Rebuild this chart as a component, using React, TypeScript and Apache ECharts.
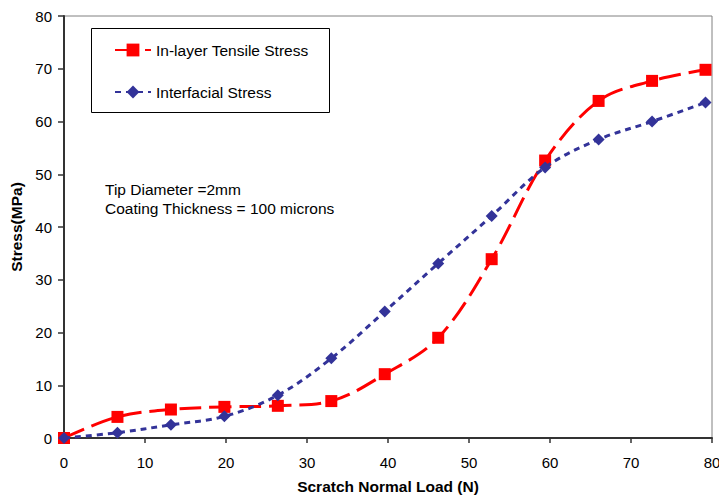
import React, { useEffect, useRef } from "react";
import * as echarts from "echarts";

const loadN = [0, 6.6, 13.2, 19.8, 26.4, 33, 39.6, 46.2, 52.8, 59.4, 66, 72.6, 79.2];
const inLayerStress = [0, 4.0, 5.4, 5.9, 6.1, 7.0, 12.1, 19.0, 33.9, 52.6, 63.9, 67.7, 69.8];
const interfacialStress = [0, 1.0, 2.5, 4.1, 8.1, 15.1, 24.0, 33.1, 42.1, 51.3, 56.6, 60.0, 63.6];
const seriesNames = ["In-layer Tensile Stress", "Interfacial Stress"];
const noteLines = ["Tip Diameter =2mm", "Coating Thickness = 100 microns"];

const FONT = "Liberation Sans, Arial, sans-serif";

export default function App() {
  const ref = useRef<HTMLDivElement>(null);
  useEffect(() => {
    if (!ref.current) return;
    const chart = echarts.init(ref.current, undefined, { renderer: "svg" });
    const pair = (xs: number[], ys: number[]) => xs.map((x, i) => [x, ys[i]]);
    chart.setOption({
      animation: false,
      backgroundColor: "#fff",
      textStyle: { fontFamily: FONT },
      grid: {
        left: 64,
        right: 7,
        top: 16,
        bottom: 58,
        outerBoundsMode: "none",
        containLabel: false,
        show: true,
        borderColor: "#808080",
        borderWidth: 1,
      },
      legend: {
        orient: "vertical",
        left: 114,
        top: 42,
        padding: 0,
        itemGap: 26,
        itemWidth: 36,
        itemHeight: 16,
        textStyle: { fontSize: 15.5, color: "#000", fontFamily: FONT },
        data: seriesNames,
      },
      xAxis: {
        type: "value",
        min: 0,
        max: 80,
        interval: 10,
        name: "Scratch Normal Load (N)",
        nameLocation: "middle",
        nameGap: 40,
        nameTextStyle: { fontSize: 15.5, fontWeight: "bold", color: "#000", fontFamily: FONT },
        axisLine: { show: true, onZero: false, lineStyle: { color: "#333", width: 2 } },
        axisTick: { show: true, inside: false, length: 5, lineStyle: { color: "#333", width: 1.5 } },
        axisLabel: { fontSize: 15, color: "#000", margin: 17, fontFamily: FONT, hideOverlap: false },
        splitLine: { show: false },
      },
      yAxis: {
        type: "value",
        min: 0,
        max: 80,
        interval: 10,
        name: "Stress(MPa)",
        nameLocation: "middle",
        nameGap: 39,
        nameTextStyle: { fontSize: 15.5, fontWeight: "bold", color: "#000", fontFamily: FONT },
        axisLine: { show: true, lineStyle: { color: "#333", width: 2 } },
        axisTick: { show: true, inside: false, length: 6, lineStyle: { color: "#333", width: 1.5 } },
        axisLabel: { fontSize: 15, color: "#000", margin: 12, fontFamily: FONT },
        splitLine: { show: false },
      },
      series: [
        {
          name: seriesNames[0],
          type: "line",
          data: pair(loadN, inLayerStress),
          smooth: 0.35,
          symbol: "rect",
          symbolSize: 12,
          color: "#ff0000",
          itemStyle: { color: "#ff0000" },
          lineStyle: { color: "#ff0000", width: 3, type: [22, 8] },
          z: 2,
        },
        {
          name: seriesNames[1],
          type: "line",
          data: pair(loadN, interfacialStress),
          smooth: 0.35,
          symbol: "diamond",
          symbolSize: 12,
          color: "#333399",
          itemStyle: { color: "#333399" },
          lineStyle: { color: "#333399", width: 3, type: [6, 5] },
          z: 3,
        },
      ],
      graphic: [
        {
          type: "rect",
          left: 91,
          top: 28,
          z: 1,
          shape: { width: 238, height: 84 },
          style: { fill: "#fff", stroke: "#000", lineWidth: 1 },
        },
        {
          type: "text",
          left: 105,
          top: 180,
          z: 1,
          style: {
            text: noteLines.join("\n"),
            fontSize: 15.5,
            lineHeight: 19,
            fill: "#000",
            fontFamily: FONT,
          },
        },
      ],
    });
    return () => chart.dispose();
  }, []);
  return <div ref={ref} style={{ width: 719, height: 496, position: "absolute", left: 0, top: 0 }} />;
}
